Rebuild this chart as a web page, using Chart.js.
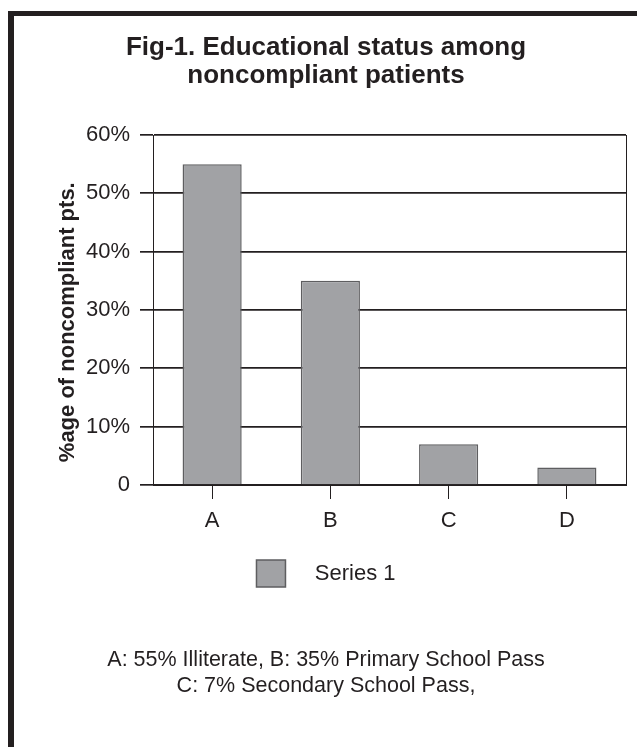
<!DOCTYPE html>
<html>
<head>
<meta charset="utf-8">
<script src="https://cdn.jsdelivr.net/npm/chart.js@4/dist/chart.umd.min.js"></script>
<style>
  html, body { margin: 0; padding: 0; background: #fff; }
  #wrap { position: relative; width: 637px; height: 747px; overflow: hidden; }
  #c { position: absolute; left: 0; top: 0; }
  .rule { position: absolute; background: #231f20; }
</style>
</head>
<body>
<div id="wrap">
  <canvas id="c" width="637" height="747"></canvas>
  <div class="rule" style="left:8px; top:11px; width:629px; height:5px;"></div>
  <div class="rule" style="left:8px; top:11px; width:6px; height:736px;"></div>
</div>
<script>
// Educational status of noncompliant patients
const categories = ['A', 'B', 'C', 'D'];
const series1 = [55, 35, 7, 3];
const seriesName = 'Series 1';
const titleLines = ['Fig-1. Educational status among', 'noncompliant patients'];
const noteLines = ['A: 55% Illiterate, B: 35% Primary School Pass', 'C: 7% Secondary School Pass,'];
const yAxisTitle = '%age of noncompliant pts.';

const INK = '#231f20';
const FONT = "'Liberation Sans', Arial, Helvetica, sans-serif";

// Closes the plot frame on the right-hand side
const rightFrame = {
  id: 'rightFrame',
  afterDatasetsDraw(chart) {
    const { ctx, chartArea } = chart;
    ctx.save();
    ctx.strokeStyle = INK;
    ctx.lineWidth = 1;
    ctx.beginPath();
    ctx.moveTo(chartArea.right + 0.5, chartArea.top);
    ctx.lineTo(chartArea.right + 0.5, chartArea.bottom);
    ctx.stroke();
    ctx.restore();
  }
};

new Chart(document.getElementById('c'), {
  type: 'bar',
  data: {
    labels: categories,
    datasets: [{
      label: seriesName,
      data: series1,
      backgroundColor: '#a1a2a5',
      borderColor: '#5e5e60',
      borderWidth: 1.5,
      categoryPercentage: 1.0,
      barPercentage: 0.5
    }]
  },
  options: {
    responsive: false,
    animation: false,
    layout: { padding: { left: 26, right: 11, top: 0, bottom: 0 } },
    plugins: {
      tooltip: { enabled: false },
      title: {
        display: true,
        text: titleLines,
        color: INK,
        font: { family: FONT, size: 26, weight: 'bold', lineHeight: '28px' },
        padding: { top: 34, bottom: 45 }
      },
      subtitle: {
        display: true,
        position: 'bottom',
        text: noteLines,
        color: INK,
        font: { family: FONT, size: 21.5, weight: 'normal', lineHeight: '26px' },
        padding: { top: 50, bottom: 48 }
      },
      legend: {
        display: true,
        position: 'bottom',
        labels: {
          color: INK,
          font: { family: FONT, size: 22 },
          boxWidth: 29,
          boxHeight: 27,
          padding: 10,
          generateLabels(chart) {
            const items = Chart.defaults.plugins.legend.labels.generateLabels(chart);
            items.forEach(it => { it.text = '   ' + it.text; });
            return items;
          }
        }
      }
    },
    scales: {
      x: {
        grid: {
          offset: false,
          drawOnChartArea: false,
          drawTicks: true,
          tickLength: 14,
          color: INK,
          lineWidth: 1
        },
        border: { display: true, color: INK, width: 1 },
        ticks: {
          color: INK,
          font: { family: FONT, size: 22 },
          padding: 9
        },
        afterFit(scale) { scale.height = 65; }
      },
      y: {
        min: 0,
        max: 60,
        grid: {
          color: INK,
          lineWidth: 1.7,
          drawTicks: true,
          tickLength: 13
        },
        border: { display: true, color: INK, width: 1 },
        ticks: {
          stepSize: 10,
          color: INK,
          font: { family: FONT, size: 22 },
          padding: 10,
          callback: v => (v === 0 ? '0' : v + '%')
        },
        title: {
          display: true,
          text: yAxisTitle + '    ',
          color: INK,
          font: { family: FONT, size: 22, weight: 'bold', lineHeight: 1.2 },
          padding: { top: 28.5, bottom: 0 }
        },
        afterFit(scale) { scale.width = 127; }
      }
    }
  },
  plugins: [rightFrame]
});
</script>
</body>
</html>
